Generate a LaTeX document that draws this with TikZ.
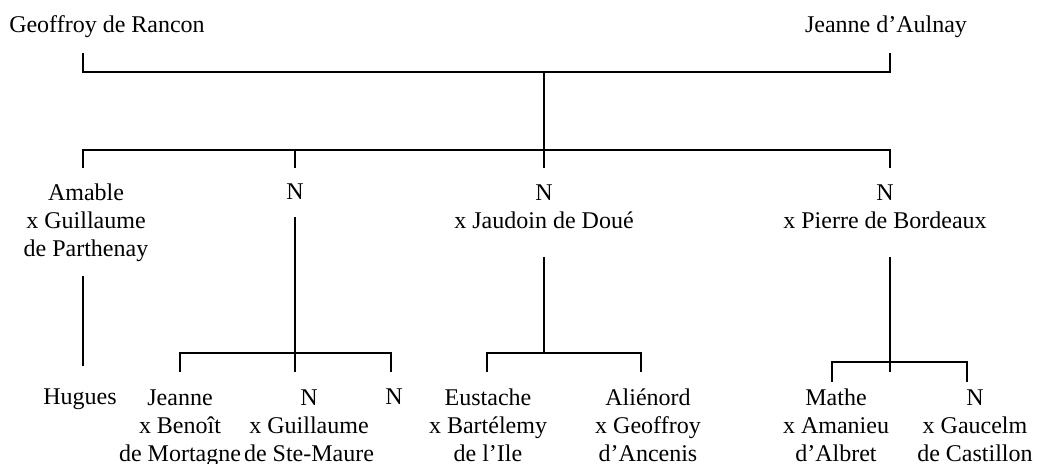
\documentclass[tikz,border=0pt]{standalone}
\usepackage{fontspec}
\setmainfont{Liberation Serif}
\begin{document}
\begin{tikzpicture}[x=0.5pt,y=-0.5pt,
  person/.style={align=center, anchor=base, inner sep=0pt, font=\fontsize{12}{14}\selectfont},
  link/.style={line width=1pt}]
\useasboundingbox (0,0) rectangle (1038,464);
% people (positions are the baseline of the last line)
\node[person] (gr) at (107,33) {Geoffroy de Rancon};
\node[person] (ja) at (886,33) {Jeanne d'Aulnay};
\node[person] (amable) at (86,257) {Amable\\x Guillaume\\de Parthenay};
\node[person] (n1) at (295,200) {N};
\node[person] (n2) at (544,229) {N\\x Jaudoin de Doué};
\node[person] (n3) at (885,229) {N\\x Pierre de Bordeaux};
\node[person] (hugues) at (80,405) {Hugues};
\node[person] (jeanne) at (180,461) {Jeanne\\x Benoît\\de Mortagne};
\node[person] (n4) at (309,461) {N\\x Guillaume\\de Ste-Maure};
\node[person] (n5) at (394,405) {N};
\node[person] (eustache) at (488,461) {Eustache\\x Bartélemy\\de l'Ile};
\node[person] (alienord) at (648,461) {Aliénord\\x Geoffroy\\d'Ancenis};
\node[person] (mathe) at (836,461) {Mathe\\x Amanieu\\d'Albret};
\node[person] (n6) at (975,461) {N\\x Gaucelm\\de Castillon};
% coordinates
\coordinate (grd) at (83,53);
\coordinate (jad) at (890,53);
\coordinate (mar) at (544,72);
\coordinate (sib) at (544,150);
\coordinate (amt) at (83,168);
\coordinate (n1t) at (295,168);
\coordinate (n2t) at (544,168);
\coordinate (n3t) at (890,168);
\coordinate (amd) at (83,276);
\coordinate (hut) at (83,366);
\coordinate (n1d) at (295,217);
\coordinate (n1b) at (295,353);
\coordinate (jet) at (180,372);
\coordinate (n4t) at (295,372);
\coordinate (n5t) at (391,372);
\coordinate (n2d) at (544,257);
\coordinate (n2b) at (544,353);
\coordinate (eut) at (487,372);
\coordinate (alt) at (641,372);
\coordinate (n3d) at (890,257);
\coordinate (n3b) at (890,362);
\coordinate (n3e) at (890,372);
\coordinate (mat) at (832,382);
\coordinate (n6t) at (967,382);
% connectors
\draw[link] (grd) |- (mar) -| (jad);
\draw[link] (mar) -- (sib);
\draw[link] (amt) |- (sib) -| (n3t);
\draw[link] (n1t) -- (n1t |- sib);
\draw[link] (sib) -- (n2t);
\draw[link] (amd) -- (hut);
\draw[link] (n1d) -- (n4t);
\draw[link] (jet) |- (n1b) -| (n5t);
\draw[link] (n2d) -- (n2b);
\draw[link] (eut) |- (n2b) -| (alt);
\draw[link] (n3d) -- (n3e);
\draw[link] (mat) |- (n3b) -| (n6t);
\end{tikzpicture}
\end{document}
